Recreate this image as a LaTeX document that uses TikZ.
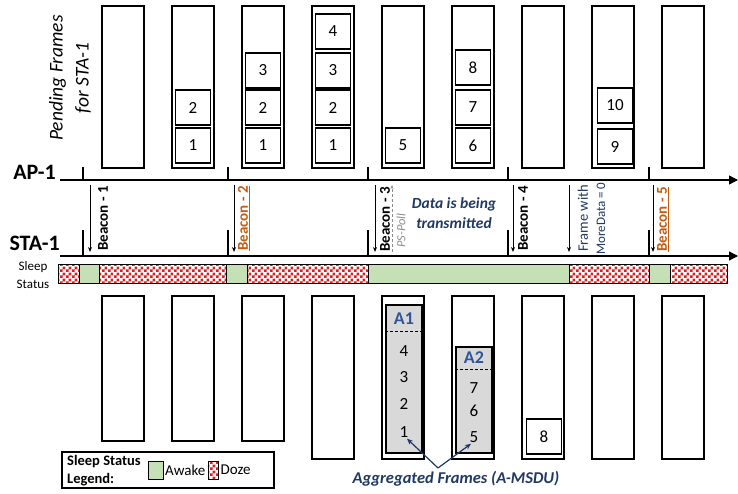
\documentclass[tikz,border=0pt]{standalone}
\usepackage{fontspec}
\setmainfont{Carlito}
\usetikzlibrary{arrows.meta,patterns}
\pgfdeclarepatternformonly{dozecheck}{\pgfpointorigin}{\pgfqpoint{6pt}{6pt}}{\pgfqpoint{6pt}{6pt}}{%
  \pgfpathrectangle{\pgfpointorigin}{\pgfqpoint{3pt}{3pt}}%
  \pgfpathrectangle{\pgfqpoint{3pt}{3pt}}{\pgfqpoint{3pt}{3pt}}%
  \pgfusepath{fill}}
\definecolor{navy}{HTML}{1F3864}
\definecolor{ablue}{HTML}{2F5597}
\definecolor{bronze}{HTML}{C55A11}
\definecolor{awakeg}{HTML}{C5E0B4}
\definecolor{dozer}{HTML}{E41A1C}
\definecolor{lgray}{HTML}{D9D9D9}
\definecolor{psgray}{HTML}{8C8C8C}
\begin{document}
\begin{tikzpicture}[x=1pt,y=-1pt,
  col/.style={draw, line width=1.1pt, inner sep=0pt, minimum width=42pt},
  frm/.style={draw, line width=1.1pt, inner sep=0pt, minimum width=35pt, minimum height=35pt, font=\fontsize{17}{17}\selectfont},
  num/.style={inner sep=0pt, font=\fontsize{17}{17}\selectfont},
  agglabel/.style={inner sep=0pt, text=ablue, font=\fontsize{18}{18}\selectfont\bfseries},
  lane/.style={line width=1.3pt, -{Triangle[length=9pt,width=9pt]}},
  tick/.style={line width=1.1pt},
  msg/.style={line width=1pt, -{Stealth[length=5pt,width=4pt]}},
  vlabel/.style={rotate=90, anchor=west, inner sep=0pt, font=\fontsize{15}{15}\selectfont\bfseries},
  awake/.style={draw, line width=1pt, fill=awakeg},
  doze/.style={draw, line width=1pt, preaction={fill=white}, pattern=dozecheck, pattern color=dozer},
  seglab/.style={inner sep=0pt, font=\fontsize{13}{13}\selectfont},
  legtxt/.style={anchor=west, inner sep=0pt, font=\fontsize{15}{15}\selectfont},
]
\useasboundingbox (0,0) rectangle (738,494);

% ---------- Pending frames (top) ----------
\node[rotate=90, align=center, inner sep=0pt, font=\fontsize{19.5}{26}\selectfont\itshape] (pend) at (70,78) {Pending Frames\\for STA-1};
\foreach \i in {0,...,8}
  \node[col, minimum height=162pt] (t\i) at ({123+70*\i},87) {};
\node[frm] (p1a) at (193,145.5) {1};
\node[frm] (p1b) at (193,107.5) {2};
\node[frm] (p2a) at (263,145.5) {1};
\node[frm] (p2b) at (263,107.5) {2};
\node[frm] (p2c) at (263,70.5) {3};
\node[frm] (p3a) at (333,145.5) {1};
\node[frm] (p3b) at (333,107.5) {2};
\node[frm] (p3c) at (333,70.5) {3};
\node[frm] (p3d) at (333,31.5) {4};
\node[frm] (p4a) at (403,145.5) {5};
\node[frm] (p5a) at (473,145.5) {6};
\node[frm] (p5b) at (473,107.5) {7};
\node[frm] (p5c) at (473,67.5) {8};
\node[frm] (p7a) at (615,146.5) {9};
\node[frm] (p7b) at (615,105.5) {10};

% ---------- AP-1 / STA-1 lanes ----------
\node[anchor=east, inner sep=0pt, font=\fontsize{22}{22}\selectfont\bfseries] (ap) at (56,172) {AP-1};
\node[anchor=east, inner sep=0pt, font=\fontsize{22}{22}\selectfont\bfseries] (sta) at (60,243) {STA-1};
\coordinate (apS) at (60,180);
\coordinate (apE) at (738,180);
\coordinate (stS) at (60,256);
\coordinate (stE) at (738,256);
\draw[lane] (apS) -- (apE);
\draw[lane] (stS) -- (stE);
\foreach \x in {83,228,368,508,649} {
  \draw[tick] (\x,167) -- (\x,180);
  \draw[tick] (\x,230) -- (\x,256);
}

% messages AP -> STA
\foreach \x in {90,234,375,513,569,653}
  \draw[msg] (\x,185) -- (\x,252);
\draw[line width=0.8pt, psgray, densely dashed, -{Stealth[length=4pt,width=3pt]}] (392,252) -- (392,185);

\node[vlabel] (b1) at (103,251) {Beacon - 1};
\node[vlabel, text=bronze] (b2) at (244,251) {\underline{Beacon - 2}};
\node[vlabel] (b3) at (385,252) {Beacon - 3};
\node[rotate=90, anchor=west, inner sep=0pt, text=psgray, font=\fontsize{12.5}{12.5}\selectfont\itshape] (ps) at (401,248) {PS-Poll};
\node[align=center, inner sep=0pt, text=navy, font=\fontsize{15.5}{20}\selectfont\bfseries\itshape] (dat) at (454,213) {Data is being\\transmitted};
\node[vlabel] (b4) at (523,251) {Beacon - 4};
\node[rotate=90, anchor=west, inner sep=0pt, text=navy, font=\fontsize{14.5}{14.5}\selectfont] (fw) at (583,252) {Frame with};
\node[rotate=90, anchor=west, inner sep=0pt, text=navy, font=\fontsize{13}{13}\selectfont] (md) at (601,255) {MoreData = 0};
\node[vlabel, text=bronze] (b5) at (663,252) {\underline{Beacon - 5}};

% ---------- Sleep status bar ----------
\node[seglab] (sl1) at (33,267) {Sleep};
\node[seglab] (sl2) at (33,284) {Status};
\draw[doze]  (58,264) rectangle (79,283);
\draw[awake] (79,264) rectangle (99,283);
\draw[doze]  (99,264) rectangle (226,283);
\draw[awake] (226,264) rectangle (247,283);
\draw[doze]  (247,264) rectangle (368,283);
\draw[awake] (368,264) rectangle (569,283);
\draw[doze]  (569,264) rectangle (649,283);
\draw[awake] (649,264) rectangle (670,283);
\draw[doze]  (670,264) rectangle (727,283);

% ---------- Received frames (bottom) ----------
\foreach \i in {0,1,2}
  \node[col, minimum height=145pt] (s\i) at ({123+70*\i},368.5) {};
\foreach \i in {3,...,8}
  \node[col, minimum height=163pt] (s\i) at ({123+70*\i},377.5) {};

\node[draw, line width=1.1pt, fill=lgray, inner sep=0pt, minimum width=36pt, minimum height=148pt] (ag1) at (404,379) {};
\draw[line width=0.9pt, densely dashed] (ag1.west |- 0,331) -- (ag1.east |- 0,331);
\node[agglabel] (a1) at (404,319) {A1};
\node[num] (q4) at (404,351) {4};
\node[num] (q3) at (404,377) {3};
\node[num] (q2) at (404,404) {2};
\node[num] (q1) at (404,432) {1};

\node[draw, line width=1.1pt, fill=lgray, inner sep=0pt, minimum width=36pt, minimum height=106pt] (ag2) at (474,400) {};
\draw[line width=0.9pt, densely dashed] (ag2.west |- 0,369) -- (ag2.east |- 0,369);
\node[agglabel] (a2) at (474,358) {A2};
\node[num] (q7) at (474,388) {7};
\node[num] (q6) at (474,411) {6};
\node[num] (q5) at (474,437) {5};

\node[frm] (q8) at (544,436.5) {8};

\coordinate (aggj) at (438,468);
\draw[line width=1.2pt, navy, -{Stealth[length=6pt,width=5pt]}] (aggj) -- ([xshift=3pt,yshift=-1pt]q1.south);
\draw[line width=1.2pt, navy, -{Stealth[length=6pt,width=5pt]}] (aggj) -- ([xshift=-3pt,yshift=-1pt]q5.south);
\node[inner sep=0pt, text=navy, font=\fontsize{16.5}{16.5}\selectfont\bfseries\itshape] (aggt) at (456,479) {Aggregated Frames (A-MSDU)};

% ---------- Legend ----------
\node[draw, line width=1.1pt, inner sep=0pt, minimum width=212pt, minimum height=36pt] (leg) at (168,470) {};
\node[legtxt, font=\fontsize{14.5}{14.5}\selectfont\bfseries] (lg1) at (67,462) {Sleep Status};
\node[legtxt, font=\fontsize{14.5}{14.5}\selectfont\bfseries] (lg2) at (67,480) {Legend:};
\draw[awake] (148,461) rectangle (163,479);
\node[legtxt] (lgA) at (165,470) {Awake};
\draw[doze] (208,461) rectangle (218,479);
\node[legtxt] (lgD) at (220.5,470) {Doze};
\end{tikzpicture}
\end{document}
